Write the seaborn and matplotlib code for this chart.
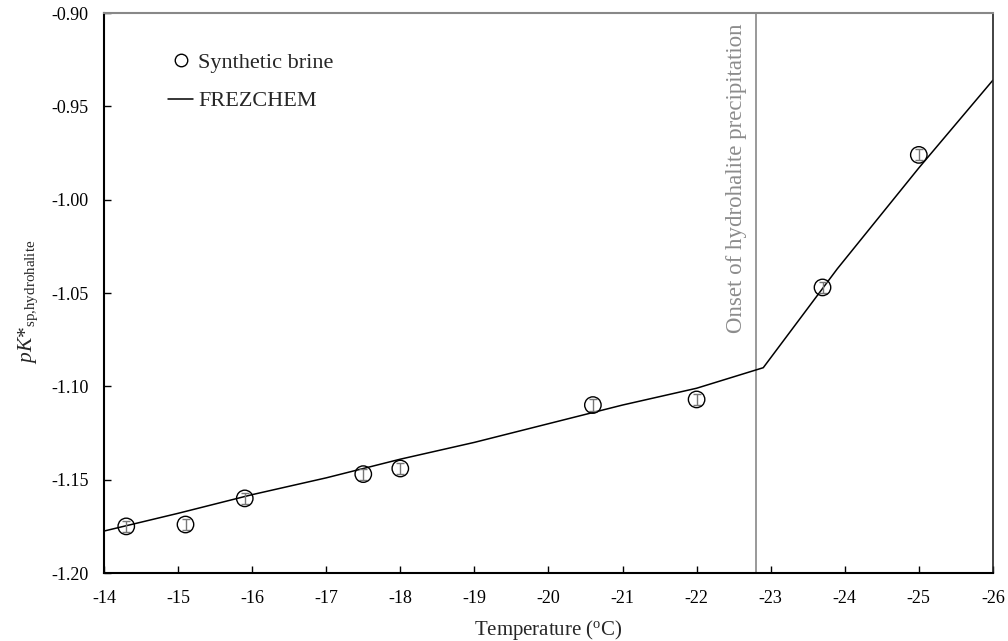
import matplotlib
matplotlib.use("Agg")
import matplotlib.pyplot as plt
import seaborn as sns
import pandas as pd
from matplotlib.lines import Line2D

# Measured activity product for the synthetic brine
brine_temp = [-14.3, -15.1, -15.9, -17.5, -18.0, -20.6, -22.0, -23.7, -25.0]
brine_pk = [-1.175, -1.174, -1.160, -1.147, -1.144, -1.110, -1.107, -1.047, -0.976]
brine_err = [0.003, 0.003, 0.003, 0.003, 0.003, 0.003, 0.003, 0.003, 0.003]

# FREZCHEM model curve
model_temp = [-14.0, -15.0, -16.0, -17.0, -18.0, -19.0, -20.0, -21.0, -22.0, -22.9, -23.9, -25.0, -26.0]
model_pk = [-1.1775, -1.168, -1.158, -1.149, -1.139, -1.130, -1.120, -1.110, -1.101, -1.090, -1.037, -0.983, -0.936]

onset_temp = -22.8

x_ticks = [-14, -15, -16, -17, -18, -19, -20, -21, -22, -23, -24, -25, -26]
y_ticks = [-0.90, -0.95, -1.00, -1.05, -1.10, -1.15, -1.20]

sns.set_style("white")
plt.rcParams["font.family"] = ["Liberation Serif", "DejaVu Serif"]
plt.rcParams["mathtext.fontset"] = "custom"
plt.rcParams["mathtext.rm"] = "Liberation Serif"
plt.rcParams["mathtext.it"] = "Liberation Serif:italic"

brine = pd.DataFrame({"T": brine_temp, "pK": brine_pk})
model = pd.DataFrame({"T": model_temp, "pK": model_pk})

fig = plt.figure(figsize=(10.08, 6.41), dpi=100)
ax = fig.add_axes([0.1032, 0.106, 0.8818, 0.8737])

sns.lineplot(data=model, x="T", y="pK", ax=ax, color="black", lw=1.1,
             sort=False, estimator=None, zorder=2)
ax.errorbar(brine_temp, brine_pk, yerr=brine_err, fmt="none", ecolor="#777777",
            elinewidth=1.0, capsize=3, capthick=1.0, zorder=3)
sns.scatterplot(data=brine, x="T", y="pK", ax=ax, marker="o", s=140,
                facecolor="none", edgecolor="black", linewidth=1.0, zorder=4)

ax.axvline(onset_temp, color="#888888", lw=1.2, zorder=1)
ax.text(onset_temp + 0.12, -0.9057, "Onset of hydrohalite precipitation",
        rotation=90, ha="right", va="top", color="#8c8c8c", fontsize=16.5)

ax.set_xlim(-14, -26)
ax.set_ylim(-1.20, -0.90)
ax.set_xticks(x_ticks)
ax.set_xticklabels([str(t) for t in x_ticks])
ax.set_yticks(y_ticks)
ax.set_yticklabels([f"{t:.2f}" for t in y_ticks])
ax.tick_params(axis="both", direction="in", length=5, width=1, colors="black",
               labelsize=13, left=True, bottom=True)
ax.tick_params(axis="x", pad=12)
ax.tick_params(axis="y", pad=11)

for side in ["left", "bottom"]:
    ax.spines[side].set_color("black")
    ax.spines[side].set_linewidth(1.5)
ax.spines["top"].set_color("#888888")
ax.spines["top"].set_linewidth(1.5)
ax.spines["right"].set_color("#222222")
ax.spines["right"].set_linewidth(1.2)

ax.set_xlabel(r"Temperature ($^{\rm o}$C)", fontsize=15, labelpad=8)
ax.set_ylabel(r"$pK$*$_{\rm sp{,}hydrohalite}$", fontsize=15.5, va="center")
ax.yaxis.set_label_coords(-0.085, 0.484)

handles = [
    Line2D([], [], marker="o", ls="none", markerfacecolor="none",
           markeredgecolor="black", markersize=9, markeredgewidth=1.0),
    Line2D([], [], color="black", lw=1.1),
]
ax.legend(handles, ["Synthetic brine", "FREZCHEM"], loc="upper left",
          bbox_to_anchor=(0.050, 0.966), frameon=False, fontsize=16,
          handlelength=1.1, handletextpad=0.25, labelspacing=0.82)

fig.savefig("out.png", dpi=100)
